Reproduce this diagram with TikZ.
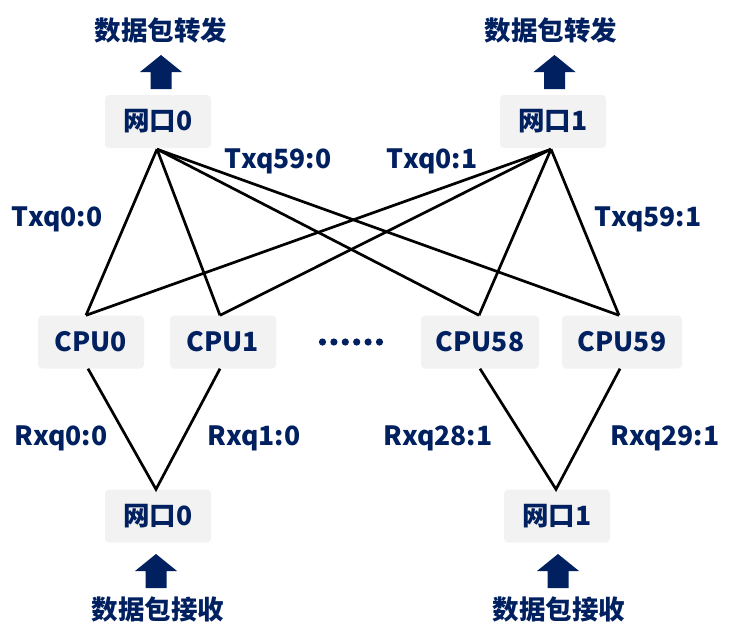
\documentclass[tikz,border=0pt]{standalone}
\usepackage{fontspec}
\setmainfont{Noto Sans CJK SC}
\definecolor{navy}{HTML}{002060}
\definecolor{boxgray}{HTML}{F2F2F2}
\newcommand\blkarrow[2]{\fill[navy] (#1,#2) -- ++(21,17) -- ++(-10.5,0) -- ++(0,17) -- ++(-21,0) -- ++(0,-17) -- ++(-10.5,0) -- cycle;}
\begin{document}
\begin{tikzpicture}[x=1pt,y=-1pt,
  box/.style={fill=boxgray, rounded corners=4pt, minimum height=53pt, minimum width=106pt, text=navy, font=\fontsize{26.5}{30}\selectfont\bfseries, inner sep=0pt},
  lbl/.style={text=navy, font=\fontsize{26.5}{30}\selectfont\bfseries, inner sep=0pt, anchor=base},
  ttl/.style={text=navy, font=\fontsize{26.5}{30}\selectfont\bfseries, inner sep=0pt},
  link/.style={line width=2.7pt, black}]
\useasboundingbox (0,0) rectangle (738,635);
% nodes
\node[box] (p0t) at (158,121.5) {网口0};
\node[box] (p1t) at (553,121.5) {网口1};
\node[box] (c0) at (91,342) {CPU0};
\node[box] (c1) at (223,342) {CPU1};
\node[box, minimum width=118pt] (c58) at (480,342) {CPU58};
\node[box, minimum width=120pt] (c59) at (622,342) {CPU59};
\node[box] (p0b) at (158,516) {网口0};
\node[box] (p1b) at (557,516) {网口1};
% titles
\node[ttl] (f0) at (161,30) {数据包转发};
\node[ttl] (f1) at (551,30) {数据包转发};
\node[ttl] (r0) at (158,609) {数据包接收};
\node[ttl] (r1) at (559,609) {数据包接收};
% block arrows
\blkarrow{161}{55}
\blkarrow{554.5}{55}
\blkarrow{156}{554}
\blkarrow{558}{554}
% dots
\foreach \i in {0,...,5} \fill[navy] (322.5+11.4*\i,342) circle (3.6pt);
% connector coordinates
\coordinate (c0n) at ([xshift=-5pt]c0.north);
\coordinate (c1n) at ([xshift=-3pt]c1.north);
\coordinate (c58n) at ([xshift=-1pt]c58.north);
\coordinate (c59n) at ([xshift=-3pt]c59.north);
\coordinate (c0s) at ([xshift=-3pt]c0.south);
\coordinate (c1s) at ([xshift=-3pt]c1.south);
\coordinate (c58s) at (c58.south);
\coordinate (c59s) at ([xshift=-2pt]c59.south);
\coordinate (p0tj) at ([xshift=-1pt,yshift=-1pt]p0t.south);
\coordinate (p1tj) at ([xshift=-2pt,yshift=-1pt]p1t.south);
\coordinate (p0bj) at ([xshift=-2pt]p0b.north);
\coordinate (p1bj) at ([xshift=-1pt]p1b.north);
% top links
\foreach \c in {c0n,c1n,c58n,c59n} {
  \draw[link] (p0tj) -- (\c);
  \draw[link] (p1tj) -- (\c);
}
% bottom links
\draw[link] (c0s) -- (p0bj) -- (c1s);
\draw[link] (c58s) -- (p1bj) -- (c59s);
% labels
\node[lbl] (l1) at (57,226) {Txq0:0};
\node[lbl] (l2) at (278,168) {Txq59:0};
\node[lbl] (l3) at (432,168) {Txq0:1};
\node[lbl] (l4) at (648,226) {Txq59:1};
\node[lbl] (l5) at (61,445) {Rxq0:0};
\node[lbl] (l6) at (254,445) {Rxq1:0};
\node[lbl] (l7) at (438,445) {Rxq28:1};
\node[lbl] (l8) at (665,445) {Rxq29:1};
\end{tikzpicture}
\end{document}
